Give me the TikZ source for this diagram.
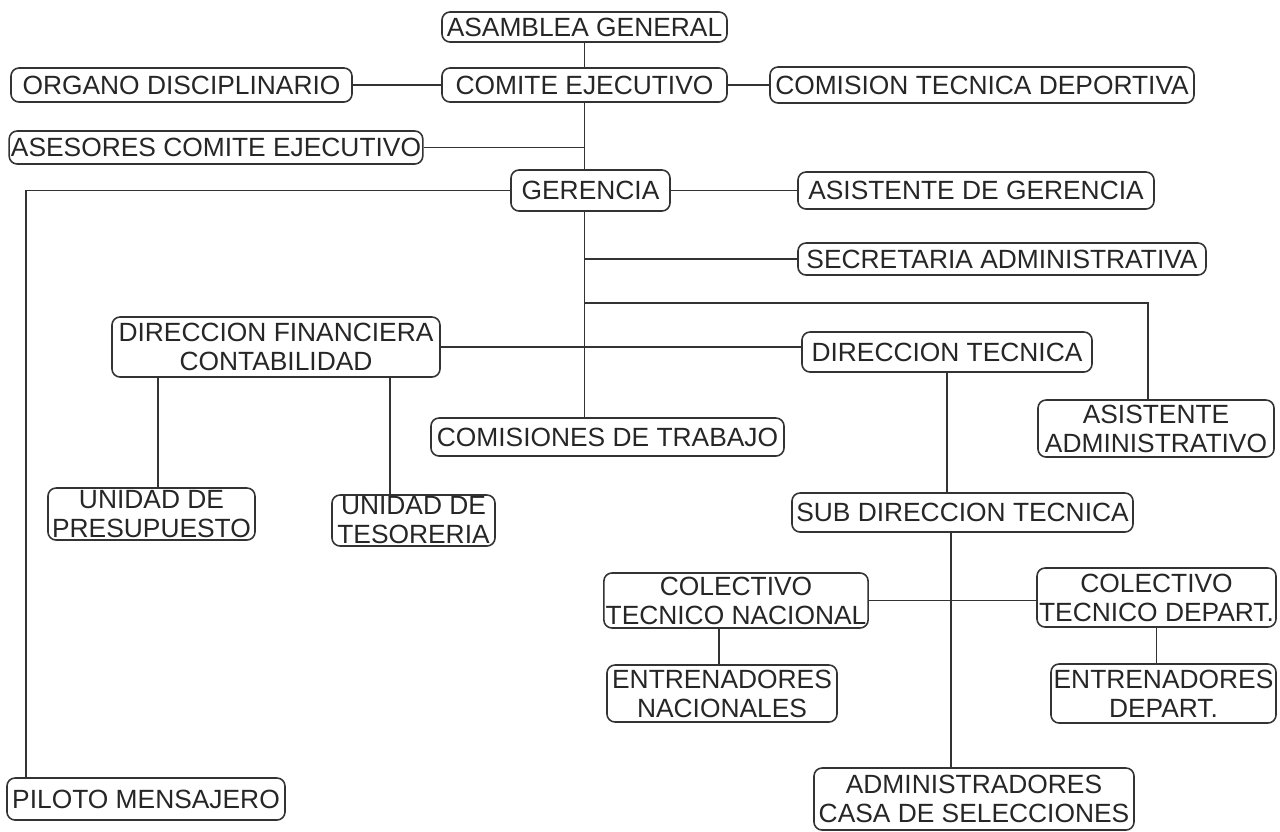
\documentclass[tikz,border=0pt]{standalone}
\usepackage{fontspec}
\setmainfont{Liberation Sans}
\usepackage{tikz}
\tikzstyle{unit} = [rectangle, rounded corners=0.16cm, draw=black!80, line width=0.9pt, text=black!85, inner sep=1pt, align=center, font=\fontsize{15}{16.5}\selectfont, minimum height=0.68cm]
\tikzstyle{link} = [draw=black!80, line width=0.9pt]

\begin{document}
\begin{tikzpicture}[node distance = 1.16cm]
\useasboundingbox (-11.69,0.54) rectangle (13.91,-16.08);

\node (asamblea) [unit, minimum width=5.7cm, minimum height=0.6cm] {ASAMBLEA GENERAL};
\node (comite) [unit, below of=asamblea, minimum width=5.7cm] {COMITE EJECUTIVO};
\node (organo) [unit, left of=comite, xshift=-6.9cm, minimum width=6.82cm] {ORGANO DISCIPLINARIO};
\node (comision) [unit, right of=comite, xshift=6.79cm, minimum width=8.48cm, minimum height=0.72cm] {COMISION TECNICA DEPORTIVA};
\node (asesores) [unit, below of=comite, xshift=-7.37cm, yshift=-0.09cm, minimum width=8.12cm, minimum height=0.66cm] {ASESORES COMITE EJECUTIVO};
\node (gerencia) [unit, below of=comite, xshift=0.12cm, yshift=-0.95cm, minimum width=3.18cm, minimum height=0.82cm] {GERENCIA};
\node (asisger) [unit, right of=gerencia, xshift=6.55cm, minimum width=7.12cm, minimum height=0.74cm] {ASISTENTE DE GERENCIA};
\node (secretaria) [unit, below of=gerencia, xshift=8.23cm, yshift=-0.21cm, minimum width=8.16cm, minimum height=0.64cm] {SECRETARIA ADMINISTRATIVA};
\node (dirfin) [unit, below of=gerencia, xshift=-6.29cm, yshift=-1.97cm, minimum width=6.56cm, minimum height=1.2cm] {DIRECCION FINANCIERA\\CONTABILIDAD};
\node (dirtec) [unit, below of=gerencia, xshift=7.13cm, yshift=-2.07cm, minimum width=5.8cm, minimum height=0.8cm] {DIRECCION TECNICA};
\node (comisiones) [unit, below of=gerencia, xshift=0.34cm, yshift=-3.77cm, minimum width=7.06cm, minimum height=0.76cm] {COMISIONES DE TRABAJO};
\node (asisadm) [unit, below of=dirtec, xshift=4.18cm, yshift=-0.37cm, minimum width=4.72cm, minimum height=1.14cm] {ASISTENTE\\ADMINISTRATIVO};

\node (presup) [unit, below of=dirfin, xshift=-2.49cm, yshift=-2.18cm, minimum width=4.14cm, minimum height=1.04cm] {UNIDAD DE\\PRESUPUESTO};
\node (tesor) [unit, below of=dirfin, xshift=2.75cm, yshift=-2.31cm, minimum width=3.26cm, minimum height=1.02cm] {UNIDAD DE\\TESORERIA};
\node (subdir) [unit, below of=dirtec, xshift=0.31cm, yshift=-2.05cm, minimum width=6.82cm, minimum height=0.78cm] {SUB DIRECCION TECNICA};
\node (ctn) [unit, below of=subdir, xshift=-4.53cm, yshift=-0.6cm, minimum width=5.28cm, minimum height=1.1cm] {COLECTIVO\\TECNICO NACIONAL};
\node (ctd) [unit, below of=subdir, xshift=3.88cm, yshift=-0.54cm, minimum width=4.78cm, minimum height=1.18cm] {COLECTIVO\\TECNICO DEPART.};
\node (entnac) [unit, below of=ctn, xshift=-0.28cm, yshift=-0.7cm, minimum width=4.6cm, minimum height=1.14cm] {ENTRENADORES\\NACIONALES};
\node (entdep) [unit, below of=ctd, xshift=0.14cm, yshift=-0.76cm, minimum width=4.5cm, minimum height=1.18cm] {ENTRENADORES\\DEPART.};
\node (admin) [unit, below of=subdir, xshift=0.23cm, yshift=-4.57cm, minimum width=6.4cm, minimum height=1.24cm] {ADMINISTRADORES\\CASA DE SELECCIONES};
\node (piloto) [unit, below of=presup, xshift=-0.11cm, yshift=-4.54cm, minimum width=5.56cm, minimum height=0.84cm] {PILOTO MENSAJERO};

\path (comite.south |- gerencia.south) ++(0,-1.82) coordinate (tap);

\draw [link] (asamblea) -- (comite);
\draw [link] (organo.east) -- (organo.east -| comite.west);
\draw [link] (comite.east) -- (comite.east -| comision.west);
\draw [link] (comite.south) -- (comite.south |- gerencia.north);
\draw [link] (asesores.east) -- (asesores.east -| comite.south);
\draw [link] (gerencia.west) -| ([xshift=0.4cm]piloto.north west);
\draw [link] (gerencia.east) -- (gerencia.east -| asisger.west);
\draw [link] (comite.south |- gerencia.south) -- (comite.south |- comisiones.north);
\draw [link] (secretaria.west -| comite.south) -- (secretaria.west);
\draw [link] (tap) -| ([xshift=-0.16cm]asisadm.north);
\draw [link] (dirfin.east) -- (dirfin.east -| dirtec.west);
\draw [link] ([xshift=0.13cm]presup.north) -- ([xshift=0.13cm]presup.north |- dirfin.south);
\draw [link] ([xshift=-0.47cm]tesor.north) -- ([xshift=-0.47cm]tesor.north |- dirfin.south);
\draw [link] (dirtec.south) -- (dirtec.south |- subdir.north);
\draw [link] ([xshift=-0.23cm]subdir.south) -- ([xshift=-0.23cm]subdir.south |- admin.north);
\draw [link] (ctn.east) -- (ctn.east -| ctd.west);
\draw [link] ([xshift=-0.34cm]ctn.south) -- ([xshift=-0.34cm]ctn.south |- entnac.north);
\draw [link] (ctd.south) -- (ctd.south |- entdep.north);

\end{tikzpicture}
\end{document}
